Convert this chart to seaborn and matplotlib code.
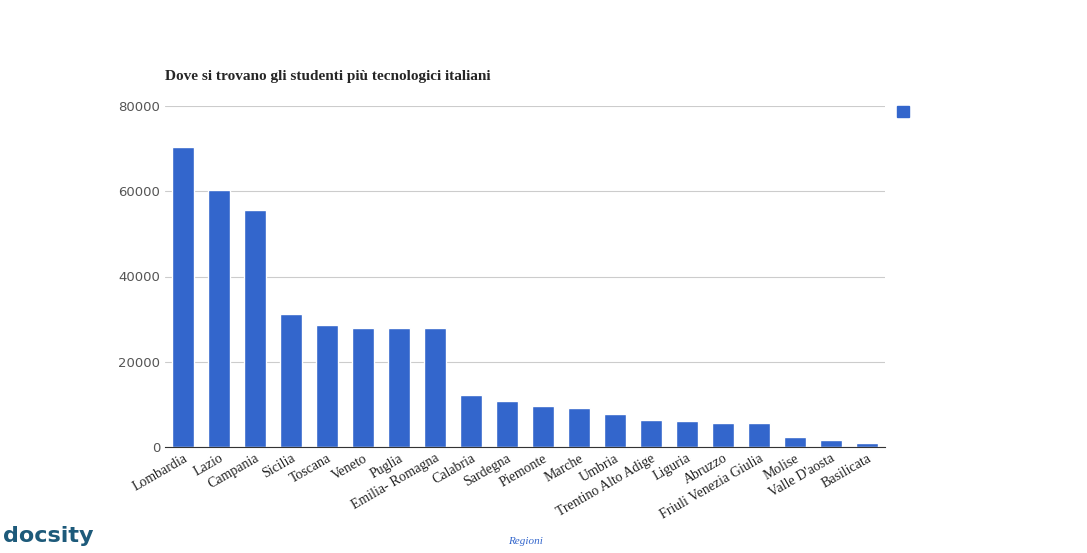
import matplotlib
matplotlib.use("Agg")
import matplotlib.pyplot as plt
import seaborn as sns
import pandas as pd

regioni = ["Lombardia", "Lazio", "Campania", "Sicilia", "Toscana", "Veneto", "Puglia",
           "Emilia- Romagna", "Calabria", "Sardegna", "Piemonte", "Marche", "Umbria",
           "Trentino Alto Adige", "Liguria", "Abruzzo", "Friuli Venezia Giulia", "Molise",
           "Valle D'aosta", "Basilicata"]
studenti = [70500, 60400, 55500, 31100, 28500, 28000, 28000, 27800, 12100, 10700,
            9700, 9200, 7800, 6400, 6000, 5500, 5500, 2400, 1500, 800]
yticks = [0, 20000, 40000, 60000, 80000]

df = pd.DataFrame({"Regioni": regioni, "Studenti": studenti})

sns.set_style("white")
fig = plt.figure(figsize=(10.87, 5.53), dpi=100)
ax = fig.add_axes([0.152, 0.192, 0.662, 0.616])
sns.barplot(data=df, x="Regioni", y="Studenti", color="#3366cc", saturation=1, width=0.62, ax=ax)

ax.set_ylim(0, 80000)
ax.set_yticks(yticks)
ax.set_yticklabels([str(v) for v in yticks], fontsize=9.5, color="#555555", family="DejaVu Sans")
ax.grid(axis="y", color="#cccccc", linewidth=0.8)
ax.set_axisbelow(True)
for s in ["top", "right", "left"]:
    ax.spines[s].set_visible(False)
ax.spines["bottom"].set_color("#333333")
ax.tick_params(axis="both", length=0)
ax.set_xticks(range(len(regioni)))
ax.set_xticklabels(regioni, rotation=30, ha="right", rotation_mode="anchor",
                   fontsize=10, family="Liberation Serif", color="#222222")
ax.set_ylabel("")
ax.set_xlabel("Regioni", fontsize=8, style="italic", color="#3366cc", family="Liberation Serif")
ax.xaxis.set_label_coords(0.5, -0.265)

fig.text(0.152, 0.855, "Dove si trovano gli studenti più tecnologici italiani",
         fontsize=11, fontweight="bold", family="Liberation Serif", ha="left")

fig.patches.append(plt.Rectangle((0.825, 0.788), 0.011, 0.021, transform=fig.transFigure,
                                 color="#3366cc", figure=fig))
fig.text(0.003, 0.02, "docsity", fontsize=16, color="#1d5a7a", fontweight="bold",
         family="DejaVu Sans")

fig.savefig("out.png", dpi=100)
